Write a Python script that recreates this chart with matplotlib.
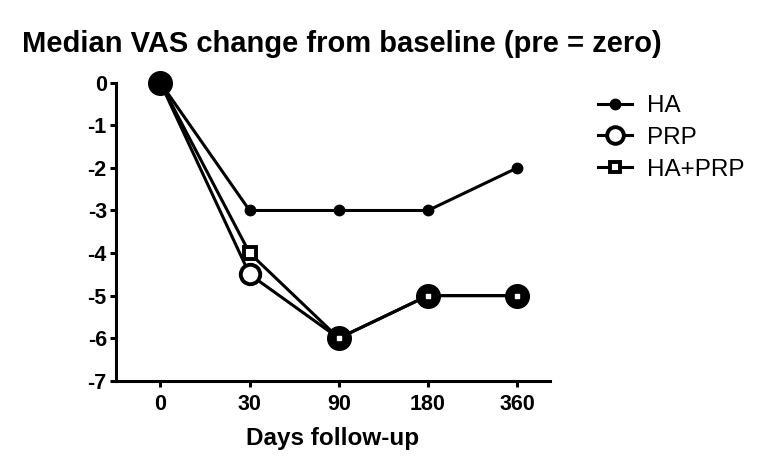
import matplotlib
matplotlib.use('Agg')
import matplotlib.pyplot as plt
from matplotlib.lines import Line2D
import numpy as np

plt.rcParams.update({
    'font.family': ['Liberation Sans', 'DejaVu Sans'],
    'axes.linewidth': 2.2,
})

days = ['0', '30', '90', '180', '360']
ha = [0, -3, -3, -3, -2]
prp = [0, -4.5, -6, -5, -5]
ha_prp = [0, -4, -6, -5, -5]
yticks = [0, -1, -2, -3, -4, -5, -6, -7]

x = np.arange(len(days))

fig = plt.figure(figsize=(7.62, 4.73), dpi=100)
ax = fig.add_axes([0.152, 0.195, 0.57, 0.63])

ax.plot(x, ha, '-o', color='black', lw=2.2, ms=7.5, clip_on=False, zorder=3, label='HA')
ax.plot(x, prp, '-o', color='black', lw=2.2, ms=14, mfc='white', mew=2.8,
        clip_on=False, zorder=4, label='PRP')
ax.plot(x, ha_prp, '-s', color='black', lw=2.2, ms=8, mfc='white', mew=2.8,
        clip_on=False, zorder=5, label='HA+PRP')

# where PRP and HA+PRP coincide the symbols merge into a solid disc
same = np.isclose(prp, ha_prp)
ax.scatter(x[same], np.array(prp)[same], s=17**2, color='black', zorder=6, clip_on=False)
ax.scatter(x[same][1:], np.array(ha_prp)[same][1:], s=2.5**2, marker='s', color='white',
           zorder=7, clip_on=False)

ax.set_xlim(-0.5, 4.37)
ax.set_ylim(-7, 0)
ax.set_xticks(x)
ax.set_xticklabels(days)
ax.set_yticks(yticks)
ax.set_yticklabels([str(v) for v in yticks])
ax.tick_params(length=4.5, width=2.2, labelsize=15.5, pad=2)
ax.tick_params(axis='x', pad=5)
for lab in ax.get_xticklabels() + ax.get_yticklabels():
    lab.set_fontweight('bold')
ax.spines['top'].set_visible(False)
ax.spines['right'].set_visible(False)
ax.set_xlabel('Days follow-up', fontsize=17.5, fontweight='bold', labelpad=9)

fig.text(0.029, 0.908, 'Median VAS change from baseline (pre = zero)',
         fontsize=21, fontweight='bold', ha='left', va='center')

handles = [
    Line2D([], [], color='black', lw=2.2, marker='o', ms=7.5),
    Line2D([], [], color='black', lw=2.2, marker='o', ms=12, mfc='white', mew=2.8),
    Line2D([], [], color='black', lw=2.2, marker='s', ms=7, mfc='white', mew=2.8),
]
fig.legend(handles, ['HA', 'PRP', 'HA+PRP'], loc='upper left',
           bbox_to_anchor=(0.756, 0.845), frameon=False, fontsize=17.5,
           handlelength=1.4, labelspacing=0.4, handletextpad=0.6)

fig.savefig('out.png', dpi=100)
